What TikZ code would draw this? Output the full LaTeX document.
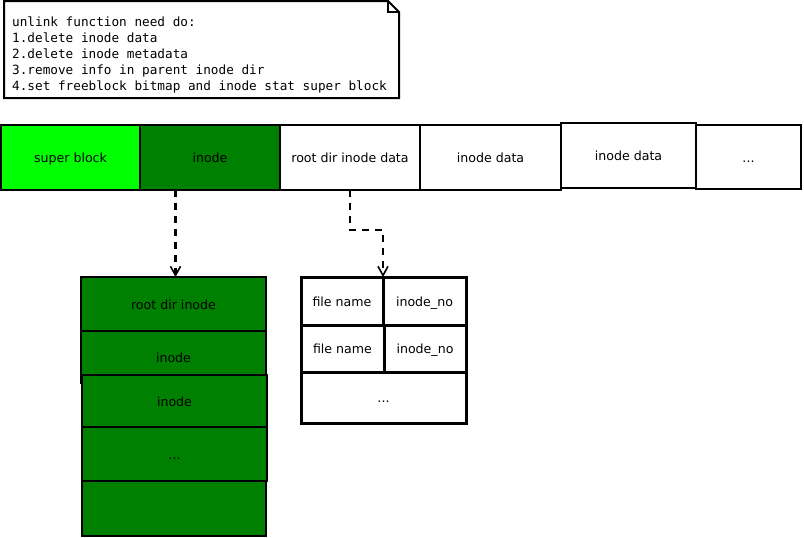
\documentclass[tikz,border=0pt]{standalone}
\usepackage{fontspec}
\setmainfont{DejaVu Sans}
\setmonofont{DejaVu Sans Mono}
\usetikzlibrary{arrows.meta}
\definecolor{lgreen}{HTML}{00FF00}
\definecolor{dgreen}{HTML}{008000}
\begin{document}
\begin{tikzpicture}[x=1pt,y=-1pt,
  blk/.style={draw, line width=2.2pt, inner sep=0pt, outer sep=0pt,
    text height=11.5pt, text depth=1.2pt,
    font=\fontsize{12.6}{15}\selectfont},
  tbl/.style={blk, line width=3pt},
  notebox/.style={line width=2pt},
  notetext/.style={inner sep=0pt, anchor=north west, align=left,
    font=\ttfamily\fontsize{12.7}{16}\selectfont},
  ptr/.style={line width=2.2pt, dash pattern=on 7pt off 6pt,
    -{Straight Barb[length=9pt,width=10pt,line width=1.6pt]}}]
\useasboundingbox (0,0) rectangle (804,538);
\fill[white] (0,0) rectangle (804,538);

% note
\draw[notebox] (4,1) -- (388,1) -- (399,12) -- (399,98) -- (4,98) -- cycle;
\draw[notebox] (388,1) -- (388,12) -- (399,12);
\node[notetext] (note) at (12,17) {unlink function need do:\\
1.delete inode data\\
2.delete inode metadata\\
3.remove info in parent inode dir\\
4.set freeblock bitmap and inode stat super block};

% top row
\node[blk, fill=lgreen, minimum width=139pt, minimum height=65pt] (sb) at (70.5,157.5) {super block};
\node[blk, fill=dgreen, minimum width=140pt, minimum height=65pt] (in) at (210,157.5) {inode};
\node[blk, minimum width=140pt, minimum height=65pt] (rd) at (350,157.5) {root dir inode data};
\node[blk, minimum width=141pt, minimum height=65pt] (d1) at (490.5,157.5) {inode data};
\node[blk, minimum width=135pt, minimum height=65pt] (d2) at (628.5,155.5) {inode data};
\node[blk, minimum width=105pt, minimum height=64pt] (dd) at (748.5,157) {...};

% inode stack
\node[blk, fill=dgreen, minimum width=185pt, minimum height=54pt] (r0) at (173.5,304) {root dir inode};
\node[blk, fill=dgreen, minimum width=185pt, minimum height=52pt] (r1) at (173.5,357) {inode};
\node[blk, fill=dgreen, minimum width=185pt, minimum height=52pt] (r2) at (174.5,401) {inode};
\node[blk, fill=dgreen, minimum width=185pt, minimum height=54pt] (r3) at (174.5,454) {...};
\node[blk, fill=dgreen, minimum width=184pt, minimum height=55pt] (r4) at (174,508.5) {};

% dir table
\node[tbl, minimum width=82pt, minimum height=48pt] (f00) at (342,301) {file name};
\node[tbl, minimum width=83pt, minimum height=48pt] (f01) at (424.5,301) {inode\_no};
\node[tbl, minimum width=83pt, minimum height=47pt] (f10) at (342.5,348.5) {file name};
\node[tbl, minimum width=82pt, minimum height=47pt] (f11) at (425,348.5) {inode\_no};
\node[tbl, minimum width=165pt, minimum height=51pt] (f2) at (383.5,397.5) {...};

% pointers
\draw[ptr] ([xshift=2pt]r0.north |- in.south) -- ([xshift=2pt]r0.north);
\draw[ptr] (rd.south) -- ++(0,40) -| (f01.north west);
\end{tikzpicture}
\end{document}
